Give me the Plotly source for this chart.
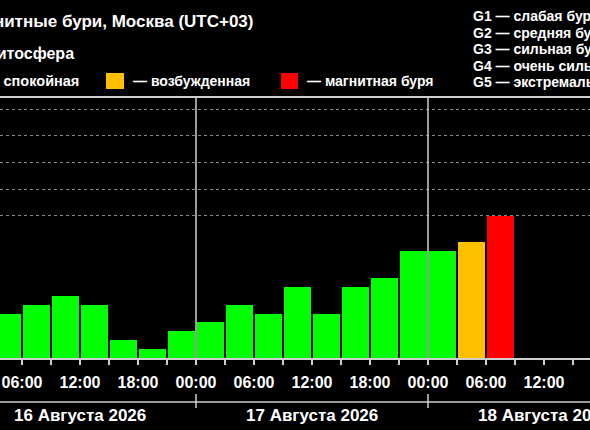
import plotly.graph_objects as go

# 3-hour intervals (bar centres), Moscow time
interval_mid = [
    "2026-08-16 04:30", "2026-08-16 07:30", "2026-08-16 10:30", "2026-08-16 13:30",
    "2026-08-16 16:30", "2026-08-16 19:30", "2026-08-16 22:30",
    "2026-08-17 01:30", "2026-08-17 04:30", "2026-08-17 07:30", "2026-08-17 10:30",
    "2026-08-17 13:30", "2026-08-17 16:30", "2026-08-17 19:30", "2026-08-17 22:30",
    "2026-08-18 01:30", "2026-08-18 04:30", "2026-08-18 07:30",
]
kp = [1.33, 1.67, 2.0, 1.67, 0.33, 0.0, 0.67,
      1.0, 1.67, 1.33, 2.33, 1.33, 2.33, 2.67, 3.67,
      3.67, 4.0, 5.0]
state = ["calm"] * 16 + ["excited", "storm"]

day_centers = ["2026-08-16 12:00", "2026-08-17 12:00", "2026-08-18 12:00"]
day_labels = ["16 Августа 2026", "17 Августа 2026", "18 Августа 2026"]
day_bounds = ["2026-08-17 00:00", "2026-08-18 00:00"]

g_scale = ["G1 — слабая буря", "G2 — средняя буря", "G3 — сильная буря",
           "G4 — очень сильная буря", "G5 — экстремальная буря"]

colors = {"calm": "#00FF00", "excited": "#FFC000", "storm": "#FF0000"}

W, H = 590, 430
TOP, BASE = 98, 358
STUB = 1 / 3  # bars start a little below zero so Kp 0 is still visible


def px(x):
    return x / W


def py(y):
    return (BASE - y) / (BASE - TOP)


font = dict(family="Liberation Sans, Arial, sans-serif", color="white", weight="bold")
LINE = "#cfcfcf"

fig = go.Figure()
fig.add_trace(go.Bar(
    x=interval_mid,
    y=[k + STUB for k in kp],
    base=-STUB,
    width=3 * 3600 * 1000 * 0.9,
    marker=dict(color=[colors[s] for s in state], line=dict(width=0)),
    hoverinfo="skip",
))

shapes = []
for d in day_bounds:
    shapes.append(dict(type="line", xref="x", yref="paper", x0=d, x1=d, y0=0, y1=1,
                       line=dict(color=LINE, width=1.5)))
    shapes.append(dict(type="line", xref="x", yref="paper", x0=d, x1=d,
                       y0=py(394), y1=py(408), line=dict(color=LINE, width=1.5)))
shapes.append(dict(type="line", xref="paper", yref="paper", x0=0, x1=1,
                   y0=py(402), y1=py(402), line=dict(color=LINE, width=1.5)))

# legend squares
for x0, x1, c in [(-30, -13, "calm"), (106, 124, "excited"), (281, 298, "storm")]:
    shapes.append(dict(type="rect", xref="paper", yref="paper",
                       x0=px(x0), x1=px(x1), y0=py(89), y1=py(73),
                       fillcolor=colors[c], line=dict(width=0)))

ann = []
ann.append(dict(text="Магнитные бури, Москва (UTC+03)", x=px(256), y=py(22),
                xanchor="right", yanchor="middle", font=dict(font, size=17)))
ann.append(dict(text="Магнитосфера", x=px(76), y=py(54),
                xanchor="right", yanchor="middle", font=dict(font, size=16)))
ann.append(dict(text="— спокойная", x=px(81), y=py(81),
                xanchor="right", yanchor="middle", font=dict(font, size=14.5)))
ann.append(dict(text="— возбужденная", x=px(131), y=py(81),
                xanchor="left", yanchor="middle", font=dict(font, size=14)))
ann.append(dict(text="— магнитная буря", x=px(305), y=py(81),
                xanchor="left", yanchor="middle", font=dict(font, size=14)))
for i, g in enumerate(g_scale):
    ann.append(dict(text=g, x=px(471), y=py(16 + i * 16.5),
                    xanchor="left", yanchor="middle", font=dict(font, size=14)))
for d, lab in zip(day_centers, day_labels):
    ann.append(dict(text=lab, x=d, xref="x", y=py(415), yref="paper",
                    xanchor="center", yanchor="middle", font=dict(font, size=17)))
for a in ann:
    a.setdefault("xref", "paper")
    a.setdefault("yref", "paper")
    a["showarrow"] = False

fig.update_layout(
    width=W, height=H,
    margin=dict(l=0, r=0, t=TOP, b=H - BASE, pad=0),
    paper_bgcolor="black", plot_bgcolor="black",
    showlegend=False, bargap=0,
    shapes=shapes, annotations=ann,
    xaxis=dict(
        type="date",
        range=["2026-08-16 03:43:26", "2026-08-18 16:45:30"],
        tickformat="%H:%M", dtick=6 * 3600 * 1000, tick0="2026-08-16 00:00",
        ticks="outside", ticklen=5, tickwidth=1.5, tickcolor=LINE,
        minor=dict(dtick=3 * 3600 * 1000, ticks="outside", ticklen=5,
                   tickwidth=1.5, tickcolor=LINE, showgrid=False),
        tickfont=dict(font, size=16), ticklabelstandoff=4,
        showline=True, linecolor=LINE, linewidth=1.5, mirror=True,
        showgrid=False, zeroline=False, fixedrange=True,
    ),
    yaxis=dict(
        range=[-STUB, 9.42],
        tickvals=[5, 6, 7, 8, 9], showticklabels=False, ticks="",
        showgrid=True, gridcolor="#8a8a8a", gridwidth=1, griddash="dot",
        zeroline=False, showline=False, fixedrange=True,
    ),
)

fig.write_html(
    "out.html",
    config={"displayModeBar": False},
    post_script="document.body.style.margin='0';document.body.style.overflow='hidden';"
                "document.body.style.background='black';",
)
